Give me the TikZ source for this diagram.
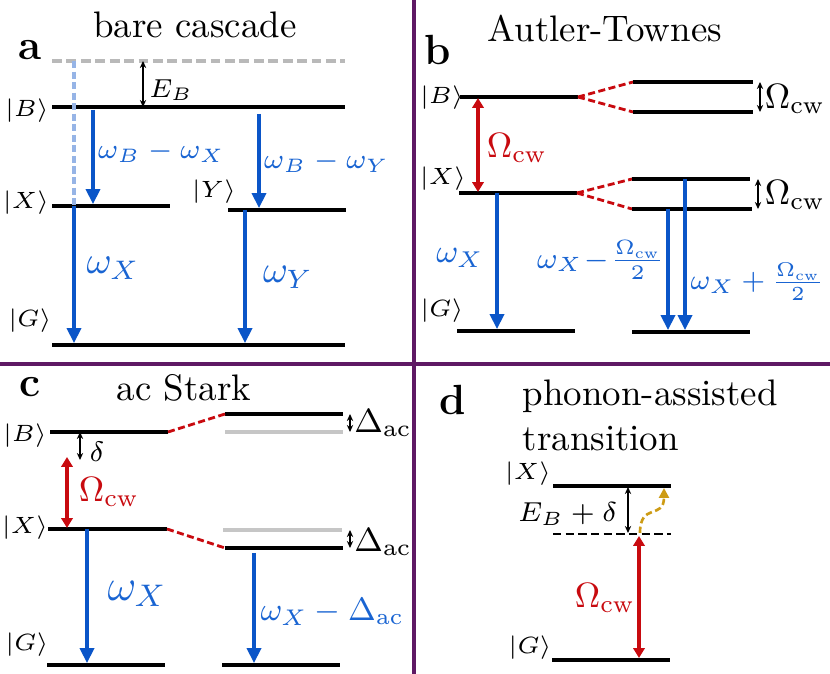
\RequirePackage{fix-cm}
\documentclass[tikz,border=0pt]{standalone}
\usetikzlibrary{arrows.meta}

\definecolor{divider}{RGB}{95,25,100}
\definecolor{emitblue}{RGB}{10,85,200}
\definecolor{labelblue}{RGB}{25,100,210}
\definecolor{paleblue}{RGB}{150,180,230}
\definecolor{drivered}{RGB}{200,10,15}
\definecolor{phonon}{RGB}{205,155,20}

\newcommand{\ket}[1]{$|#1\rangle$}
\newcommand{\fsz}[1]{\fontsize{#1}{#1}\selectfont}

\begin{document}
\begin{tikzpicture}[x=0.01cm, y=-0.01cm,
    lvl/.style={line width=1.2pt},
    ghostlvl/.style={line width=1.2pt, gray!45},
    emit/.style={emitblue, line width=0.9pt, -{Triangle[length=4.2pt,width=4pt]}},
    drive/.style={drivered, line width=0.9pt, {Triangle[length=2.8pt,width=3.2pt]}-{Triangle[length=2.8pt,width=3.2pt]}},
    splitline/.style={drivered, line width=0.8pt, dash pattern=on 2pt off 1pt},
    gapmark/.style={line width=0.45pt, {Stealth[length=2pt,width=1.8pt]}-{Stealth[length=2pt,width=1.8pt]}},
    ket/.style={font=\fsz{6.7}},
    titlefont/.style={font=\fontsize{10.5}{12.8}\selectfont},
    panellabel/.style={font=\fsz{12}\bfseries},
]
    \useasboundingbox (0,0) rectangle (830,674);

    % Draw the dividers
    \draw[divider, line width=0.9pt] (414,0) -- (414,674);
    \draw[divider, line width=0.9pt] (0,364) -- (830,364);

    % Panel a: bare cascade
    \node[panellabel] (pa) at (30,50) {a};
    \node[titlefont] (ta) at (195,25) {bare cascade};
    \draw[gray!55, line width=1.2pt, dash pattern=on 2.8pt off 1.3pt] (52,61) -- (345,61);
    \draw[lvl] (52,107) -- (345,107);
    \draw[lvl] (52,206) -- (170,206);
    \draw[lvl] (228,210) -- (346,210);
    \draw[lvl] (52,345) -- (345,345);
    \node[ket] (aB) at (27,111) {\ket{B}};
    \node[ket] (aX) at (26,203) {\ket{X}};
    \node[ket] (aY) at (214,192) {\ket{Y}};
    \node[ket] (aG) at (30,321) {\ket{G}};
    \draw[gapmark] (143,61) -- (143,107);
    \node[font=\fsz{7.4}] (aEB) at (171,90) {$E_B$};
    \draw[paleblue, line width=0.9pt, dash pattern=on 2pt off 1pt] (74,61) -- (74,206);
    \draw[emit] (93,110) -- (93,204);
    \draw[emit] (259,114) -- (259,208);
    \draw[emit] (74,206) -- (74,343);
    \draw[emit] (245,210) -- (245,343);
    \node[labelblue, font=\fsz{7.9}, anchor=west, inner sep=0pt] (awBX) at (97,152) {$\omega_B-\omega_X$};
    \node[labelblue, font=\fsz{7.9}, anchor=west, inner sep=0pt] (awBY) at (263,162) {$\omega_B-\omega_Y$};
    \node[labelblue, font=\fsz{10.9}] (awX) at (113,268) {$\omega_X$};
    \node[labelblue, font=\fsz{10.8}] (awY) at (288,277) {$\omega_Y$};

    % Panel b: Autler-Townes
    \node[panellabel] (pb) at (438,50) {b};
    \node[titlefont] (tb) at (605,28) {Autler-Townes};
    \draw[lvl] (460,97) -- (578,97);
    \draw[lvl] (459,193) -- (577,193);
    \draw[lvl] (457,331) -- (575,331);
    \draw[splitline] (578,97) -- (633,82);
    \draw[splitline] (578,97) -- (633,112);
    \draw[splitline] (577,193) -- (632,179);
    \draw[splitline] (577,193) -- (632,209);
    \draw[lvl] (633,82) -- (753,82);
    \draw[lvl] (633,112) -- (753,112);
    \draw[lvl] (632,179) -- (750,179);
    \draw[lvl] (632,209) -- (752,209);
    \draw[lvl] (632,332) -- (750,332);
    \node[ket] (bB) at (442,98) {\ket{B}};
    \node[ket] (bX) at (443,179) {\ket{X}};
    \node[ket] (bG) at (442,311) {\ket{G}};
    \draw[gapmark] (760,82) -- (760,112);
    \draw[gapmark] (758,179) -- (758,209);
    \node[font=\fsz{10}] (bO1) at (795,99) {$\Omega_\mathrm{cw}$};
    \node[font=\fsz{10}] (bO2) at (795,195) {$\Omega_\mathrm{cw}$};
    \draw[drive] (478,98) -- (478,192);
    \node[drivered, font=\fsz{10}] (bOr) at (517,148) {$\Omega_\mathrm{cw}$};
    \draw[emit] (497,193) -- (497,329);
    \draw[emit] (668,209) -- (668,330);
    \draw[emit] (685,179) -- (685,330);
    \node[labelblue, font=\fsz{9.3}] (bwX) at (460,258) {$\omega_X$};
    \node[labelblue, font=\fsz{8.4}, anchor=east, inner sep=0pt] (bwm) at (665,260) {$\omega_X\!-\!\frac{\Omega_\mathrm{cw}}{2}$};
    \node[labelblue, font=\fsz{8.1}, anchor=west, inner sep=0pt] (bwp) at (690,282) {$\omega_X+\frac{\Omega_\mathrm{cw}}{2}$};

    % Panel c: ac Stark
    \node[panellabel] (pc) at (30,387) {c};
    \node[titlefont] (tc) at (184,388) {ac Stark};
    \draw[lvl] (50,432) -- (168,432);
    \draw[lvl] (48,529) -- (167,529);
    \draw[lvl] (47,665) -- (165,665);
    \draw[ghostlvl] (225,432) -- (343,432);
    \draw[ghostlvl] (223,530) -- (342,530);
    \draw[lvl] (225,414) -- (343,414);
    \draw[lvl] (225,548) -- (343,548);
    \draw[lvl] (222,665) -- (340,665);
    \draw[splitline] (168,432) -- (225,414);
    \draw[splitline] (167,529) -- (225,548);
    \node[ket] (cB) at (25,436) {\ket{B}};
    \node[ket] (cX) at (25,528) {\ket{X}};
    \node[ket] (cG) at (27,645) {\ket{G}};
    \draw[gapmark] (80,432) -- (80,460);
    \node[font=\fsz{8}] (cd) at (97,452) {$\delta$};
    \draw[gapmark] (350,414) -- (350,432);
    \draw[gapmark] (350,530) -- (350,548);
    \node[font=\fsz{9.5}] (cD1) at (383,423) {$\Delta_\mathrm{ac}$};
    \node[font=\fsz{9.5}] (cD2) at (383,542) {$\Delta_\mathrm{ac}$};
    \draw[drive] (67,457) -- (67,528);
    \node[drivered, font=\fsz{10}] (cOr) at (109,492) {$\Omega_\mathrm{cw}$};
    \draw[emit] (87,529) -- (87,663);
    \draw[emit] (254,553) -- (254,663);
    \node[labelblue, font=\fsz{12.7}] (cwX) at (137,594) {$\omega_X$};
    \node[labelblue, font=\fsz{9.2}, anchor=west, inner sep=0pt] (cwD) at (260,612) {$\omega_X-\Delta_\mathrm{ac}$};

    % Panel d: phonon-assisted transition
    \node[panellabel] (pd) at (453,400) {d};
    \node[titlefont, align=left, anchor=north west, inner sep=0pt] (td) at (522,379) {phonon-assisted\\transition};
    \draw[lvl] (553,486) -- (671,486);
    \draw[line width=0.7pt, dash pattern=on 2.4pt off 1.2pt] (553,534) -- (671,534);
    \draw[lvl] (552,660) -- (670,660);
    \node[ket] (dX) at (528,474) {\ket{X}};
    \node[ket] (dG) at (530,648) {\ket{G}};
    \draw[gapmark] (628,487) -- (628,533);
    \node[font=\fsz{7.8}, anchor=east, inner sep=0pt] (dEB) at (618,514) {$E_B+\delta$};
    \draw[phonon, line width=0.75pt, dash pattern=on 1.8pt off 1pt, -{Triangle[length=2.8pt,width=2.8pt]}]
        (640,533) .. controls (640,502) and (664,520) .. (664,488);
    \draw[drive] (639,536) -- (639,658);
    \node[drivered, font=\fsz{10}] (dOr) at (605,598) {$\Omega_\mathrm{cw}$};
\end{tikzpicture}
\end{document}
